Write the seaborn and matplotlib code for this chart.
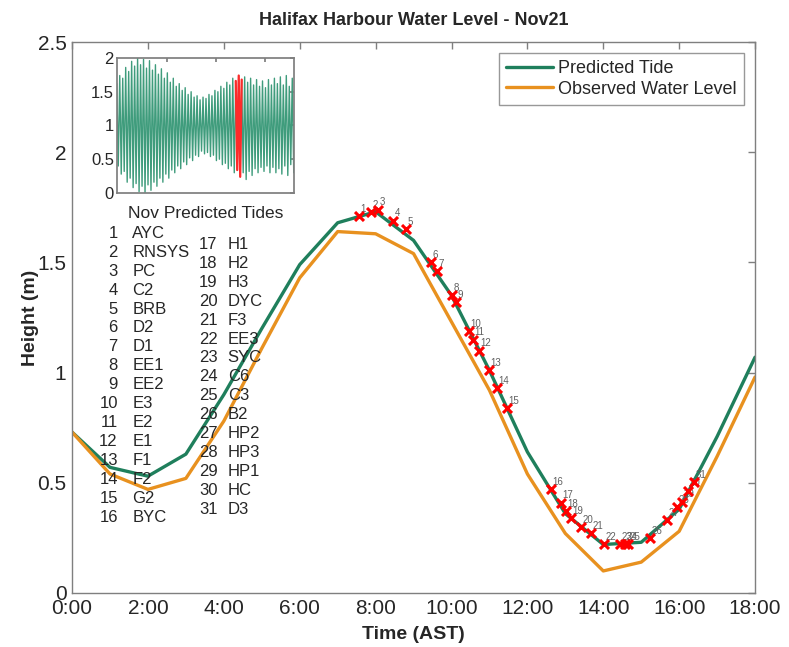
import numpy as np
import pandas as pd
import matplotlib
matplotlib.use("Agg")
import matplotlib.pyplot as plt
import seaborn as sns


# Hourly water levels (m), 0:00 - 18:00 AST
HOURS = list(range(19))
PREDICTED = [0.73, 0.57, 0.53, 0.63, 0.90, 1.20, 1.49, 1.68, 1.73, 1.60, 1.35,
             1.01, 0.64, 0.36, 0.22, 0.23, 0.38, 0.71, 1.07]
OBSERVED = [0.73, 0.54, 0.47, 0.52, 0.78, 1.11, 1.43, 1.64, 1.63, 1.54, 1.23,
            0.92, 0.54, 0.27, 0.10, 0.14, 0.28, 0.62, 0.98]

# Station passes (time in hours, predicted height at that time)
STATION_NAMES = ["AYC", "RNSYS", "PC", "C2", "BRB", "D2", "D1", "EE1", "EE2",
                 "E3", "E2", "E1", "F1", "F2", "G2", "BYC", "H1", "H2", "H3",
                 "DYC", "F3", "EE3", "SYC", "C6", "C3", "B2", "HP2", "HP3",
                 "HP1", "HC", "D3"]
STATION_TIME = [7.56, 7.88, 8.07, 8.46, 8.80, 9.46, 9.62, 10.02, 10.12, 10.46,
                10.57, 10.73, 10.99, 11.20, 11.47, 12.62, 12.89, 13.02, 13.15,
                13.42, 13.68, 14.02, 14.44, 14.57, 14.65, 15.23, 15.68, 15.95,
                16.08, 16.24, 16.40]
STATION_HEIGHT = [1.71, 1.73, 1.74, 1.69, 1.65, 1.50, 1.46, 1.35, 1.32, 1.19,
                  1.15, 1.10, 1.01, 0.93, 0.84, 0.47, 0.41, 0.37, 0.34, 0.30,
                  0.27, 0.22, 0.22, 0.22, 0.22, 0.25, 0.33, 0.39, 0.415, 0.465,
                  0.505]

XTICKS = [0, 2, 4, 6, 8, 10, 12, 14, 16, 18]
XTICK_LABELS = ["0:00", "2:00", "4:00", "6:00", "8:00", "10:00", "12:00",
                "14:00", "16:00", "18:00"]

# November predicted tides: successive high / low water heights (m)
NOV_HIGHS = [1.62, 1.74, 1.70, 1.86, 1.80, 1.95, 1.88, 2.00, 1.90, 1.98,
             1.85, 1.96, 1.82, 1.90, 1.76, 1.84, 1.70, 1.78, 1.64, 1.70,
             1.58, 1.62, 1.52, 1.56, 1.46, 1.50, 1.42, 1.44, 1.38, 1.42,
             1.40, 1.46, 1.44, 1.52, 1.50, 1.58, 1.55, 1.64, 1.60, 1.70,
             1.66, 1.74, 1.68, 1.72, 1.64, 1.70, 1.60, 1.68, 1.58, 1.66,
             1.56, 1.68, 1.60, 1.70, 1.62, 1.72, 1.60, 1.74, 1.58, 1.70]
NOV_LOWS = [0.40, 0.28, 0.32, 0.16, 0.22, 0.08, 0.14, 0.02, 0.10, 0.00,
            0.12, 0.04, 0.16, 0.10, 0.22, 0.16, 0.28, 0.22, 0.34, 0.30,
            0.40, 0.36, 0.46, 0.42, 0.52, 0.48, 0.56, 0.54, 0.62, 0.58,
            0.60, 0.54, 0.56, 0.48, 0.50, 0.42, 0.44, 0.36, 0.40, 0.30,
            0.34, 0.24, 0.30, 0.20, 0.32, 0.26, 0.36, 0.30, 0.38, 0.32,
            0.40, 0.30, 0.38, 0.30, 0.36, 0.28, 0.40, 0.26, 0.42, 0.30]
NOV21_TIDES = (40, 42)   # tide numbers covering Nov 21

GREEN = "#1f7f5c"
ORANGE = "#e8911f"
BOX = "#7f7f7f"

# Long-form frame for seaborn
df = pd.DataFrame({
    "hour": HOURS + HOURS,
    "height": PREDICTED + OBSERVED,
    "series": ["Predicted Tide"] * len(HOURS) + ["Observed Water Level"] * len(HOURS),
})
df_st = pd.DataFrame({"hour": STATION_TIME, "height": STATION_HEIGHT})

nov = np.ravel(np.column_stack([NOV_HIGHS, NOV_LOWS]))
df_nov = pd.DataFrame({"step": np.arange(len(nov)), "height": nov})


sns.set_theme(style="white")
plt.rcParams["font.family"] = ["Liberation Sans Narrow", "Liberation Sans", "DejaVu Sans"]

fig = plt.figure(figsize=(7.89, 6.47), dpi=100)
ax = fig.add_axes([0.0913, 0.0835, 0.8657, 0.8515])

sns.lineplot(data=df, x="hour", y="height", hue="series",
             palette={"Predicted Tide": GREEN, "Observed Water Level": ORANGE},
             linewidth=2.4, ax=ax)
sns.scatterplot(data=df_st, x="hour", y="height", marker="x", color="red",
                s=42, linewidth=2.2, zorder=5, ax=ax, legend=False)

for i, (t, h) in enumerate(zip(STATION_TIME, STATION_HEIGHT)):
    ax.annotate(str(i + 1), (t, h), xytext=(1, 3), textcoords="offset points",
                fontsize=7, color="#606060")

ax.set_xlim(0, 18)
ax.set_ylim(0, 2.5)
ax.set_xticks(XTICKS)
ax.set_xticklabels(XTICK_LABELS)
ax.set_yticks([0, 0.5, 1, 1.5, 2, 2.5])
ax.set_yticklabels(["0", "0.5", "1", "1.5", "2", "2.5"])
ax.tick_params(direction="in", length=5, width=1, color=BOX, labelsize=15,
               top=True, right=True, pad=4)
for sp in ax.spines.values():
    sp.set_color(BOX)
    sp.set_linewidth(1)
ax.set_xlabel("Time (AST)", fontsize=14, fontweight="bold", labelpad=6)
ax.set_ylabel("Height (m)", fontsize=14, fontweight="bold", labelpad=-1)
ax.set_title("Halifax Harbour Water Level - Nov21", fontsize=13,
             fontweight="bold", pad=12)

leg = ax.legend(loc="upper right", fontsize=13, frameon=True, fancybox=False,
                borderpad=0.4, handlelength=2.6, handletextpad=0.3,
                labelspacing=0.2, borderaxespad=0.6)
leg.get_frame().set_edgecolor(BOX)
leg.get_frame().set_linewidth(1)
for line in leg.get_lines():
    line.set_linewidth(2.4)

# Station list in two columns
for i, name in enumerate(STATION_NAMES):
    if i < 16:
        xn, xs, y = 0.067, 0.088, 0.653 - i * 0.0344
    else:
        xn, xs, y = 0.213, 0.228, 0.633 - (i - 16) * 0.0344
    ax.text(xn, y, str(i + 1), transform=ax.transAxes, ha="right", va="center",
            fontsize=12)
    ax.text(xs, y, name, transform=ax.transAxes, ha="left", va="center",
            fontsize=12)

# Inset: November predicted tides
ins = fig.add_axes([0.148, 0.7017, 0.2243, 0.2087])
sns.lineplot(data=df_nov, x="step", y="height", color="#3f9c7c", linewidth=1,
             ax=ins)
red = df_nov.iloc[NOV21_TIDES[0] * 2:NOV21_TIDES[1] * 2 + 1]
sns.lineplot(data=red, x="step", y="height", color="#ff2a2a", linewidth=1.6,
             ax=ins)
ins.set_xlim(0, len(nov) - 1)
ins.set_ylim(0, 2)
ins.set_xticks([34, 67, 100])
ins.set_xticklabels([])
ins.set_yticks([0, 0.5, 1, 1.5, 2])
ins.set_yticklabels(["0", "0.5", "1", "1.5", "2"])
ins.tick_params(direction="in", length=3, color=BOX, labelsize=12, pad=2,
                top=True, right=True)
for sp in ins.spines.values():
    sp.set_color(BOX)
ins.set_xlabel("Nov Predicted Tides", fontsize=12.5, labelpad=7)
ins.set_ylabel("")

fig.savefig("out.png", dpi=100)
